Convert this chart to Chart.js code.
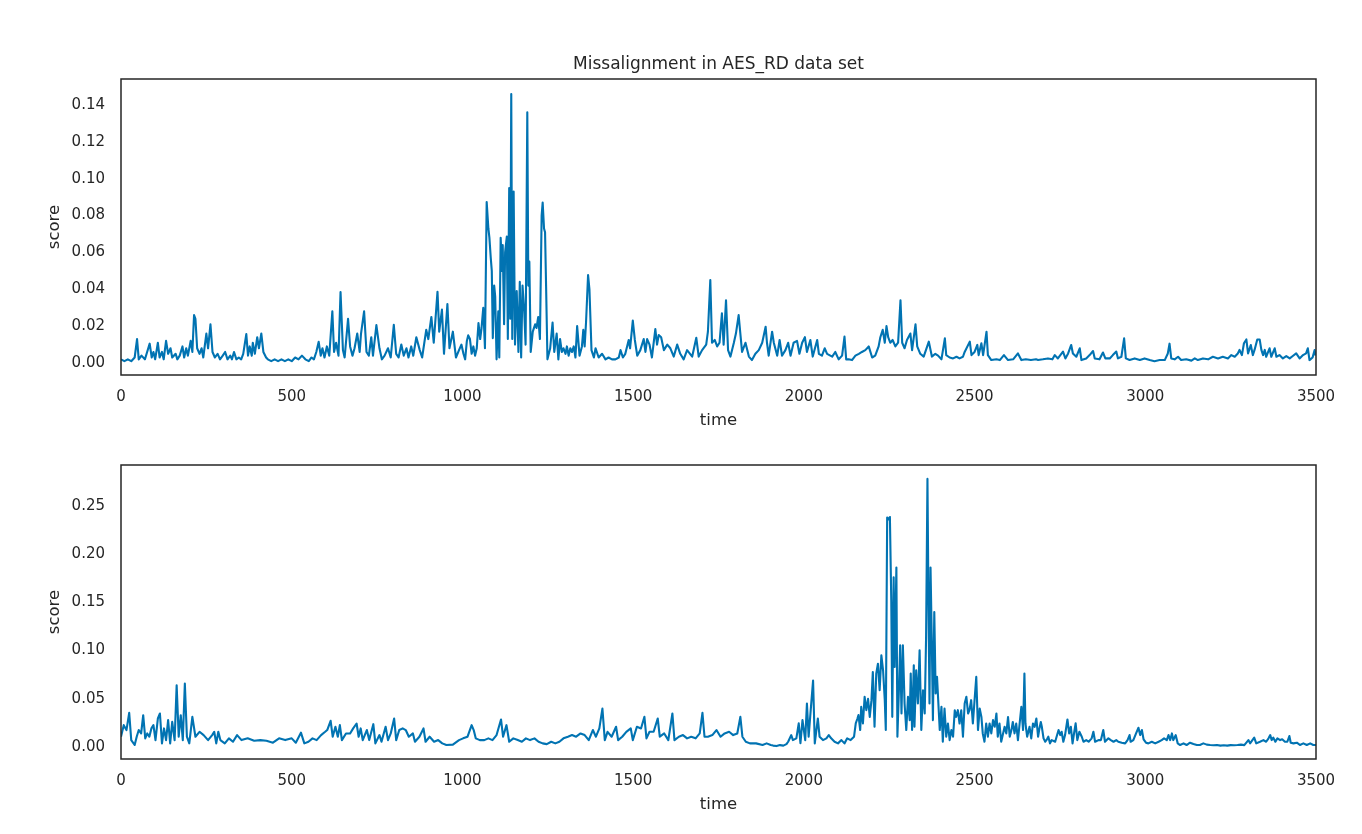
<!DOCTYPE html>
<html><head><meta charset="utf-8">
<script src="https://cdn.jsdelivr.net/npm/chart.js@4"></script>
<style>
html,body{margin:0;padding:0;background:#fff;width:1362px;height:834px;overflow:hidden}
canvas{position:absolute;left:0}
#c1{top:0}
#c2{top:440px}
</style></head><body>
<canvas id="c1" width="1362" height="440"></canvas>
<canvas id="c2" width="1362" height="394"></canvas>
<script>
const TITLE = 'Missalignment in AES_RD data set';
const X_LABEL = 'time';
const Y_LABEL = 'score';
const xTicks = [0, 500, 1000, 1500, 2000, 2500, 3000, 3500];
const topYTicks = [0, 0.02, 0.04, 0.06, 0.08, 0.10, 0.12, 0.14];
const bottomYTicks = [0, 0.05, 0.10, 0.15, 0.20, 0.25];

// [time, score] pairs
const topSeries = [[0,0.002],[10,0.001],[20,0.002],[30,0.001],[40,0.003],[47,0.013],[52,0.002],[60,0.004],[70,0.002],[75,0.005],[84,0.0105],[90,0.003],[95,0.006],[100,0.002],[108,0.011],[113,0.003],[120,0.006],[125,0.002],[132,0.012],[138,0.005],[145,0.008],[150,0.003],[160,0.005],[165,0.002],[172,0.004],[180,0.009],[185,0.003],[191,0.008],[196,0.004],[204,0.012],[209,0.006],[214,0.026],[218,0.024],[223,0.008],[230,0.005],[236,0.008],[241,0.003],[250,0.016],[255,0.008],[262,0.021],[268,0.006],[275,0.003],[283,0.005],[290,0.002],[298,0.004],[305,0.006],[312,0.002],[320,0.004],[325,0.002],[331,0.006],[338,0.002],[345,0.003],[352,0.002],[358,0.005],[367,0.0157],[372,0.004],[377,0.009],[383,0.004],[386,0.011],[392,0.005],[399,0.014],[404,0.008],[411,0.016],[417,0.006],[425,0.003],[430,0.002],[440,0.001],[450,0.002],[460,0.001],[470,0.002],[480,0.001],[490,0.002],[500,0.001],[510,0.003],[520,0.002],[530,0.004],[540,0.002],[550,0.001],[558,0.003],[565,0.002],[572,0.006],[579,0.0115],[585,0.004],[590,0.008],[596,0.003],[603,0.009],[610,0.004],[619,0.028],[624,0.006],[630,0.011],[637,0.004],[643,0.0385],[650,0.007],[655,0.003],[665,0.024],[671,0.009],[678,0.004],[684,0.008],[692,0.016],[699,0.006],[703,0.016],[712,0.028],[719,0.006],[726,0.004],[733,0.014],[738,0.004],[748,0.0206],[757,0.008],[764,0.002],[772,0.004],[782,0.008],[790,0.003],[799,0.0207],[806,0.005],[813,0.003],[821,0.010],[828,0.004],[836,0.008],[842,0.003],[850,0.009],[856,0.004],[865,0.014],[875,0.007],[882,0.003],[894,0.018],[900,0.013],[909,0.025],[916,0.011],[927,0.0387],[932,0.017],[940,0.029],[946,0.005],[956,0.032],[962,0.008],[972,0.017],[981,0.003],[990,0.007],[997,0.010],
[1003,0.005],[1008,0.002],[1013,0.012],[1017,0.015],[1022,0.013],[1027,0.005],[1032,0.009],[1037,0.004],[1042,0.008],[1047,0.0217],[1052,0.013],[1056,0.019],[1061,0.030],[1066,0.008],[1071,0.0874],[1076,0.073],[1079,0.068],[1083,0.057],[1086,0.050],[1089,0.0135],[1093,0.042],[1096,0.036],[1100,0.002],[1105,0.028],[1108,0.003],[1112,0.068],[1116,0.050],[1118,0.064],[1122,0.021],[1125,0.060],[1130,0.0686],[1133,0.013],[1137,0.095],[1140,0.024],[1143,0.146],[1146,0.013],[1150,0.093],[1154,0.010],[1159,0.039],[1164,0.006],[1168,0.044],[1172,0.003],[1176,0.042],[1181,0.028],[1185,0.010],[1190,0.136],[1193,0.042],[1196,0.055],[1200,0.006],[1206,0.017],[1213,0.021],[1217,0.019],[1222,0.025],[1227,0.013],[1232,0.080],[1235,0.087],[1239,0.073],[1242,0.071],[1245,0.042],[1249,0.002],[1257,0.008],[1264,0.022],[1269,0.006],[1276,0.016],[1281,0.002],[1286,0.013],[1291,0.006],
[1296,0.008],[1302,0.005],[1306,0.009],[1311,0.004],[1316,0.008],[1321,0.006],[1326,0.009],[1331,0.003],[1336,0.020],[1343,0.004],[1350,0.009],[1354,0.018],[1358,0.009],[1362,0.022],[1368,0.0477],[1372,0.040],[1378,0.007],[1385,0.003],[1390,0.008],[1399,0.003],[1409,0.005],[1419,0.002],[1428,0.003],[1438,0.002],[1448,0.002],[1458,0.003],[1463,0.007],[1470,0.003],[1477,0.005],[1487,0.0125],[1491,0.008],[1499,0.023],[1505,0.0125],[1512,0.004],[1521,0.007],[1531,0.013],[1536,0.006],[1541,0.013],[1548,0.010],[1555,0.003],[1565,0.0184],[1570,0.010],[1575,0.0152],[1582,0.014],[1590,0.007],[1600,0.010],[1609,0.008],[1619,0.0035],[1629,0.010],[1638,0.005],[1648,0.002],[1658,0.007],[1673,0.0035],[1685,0.0137],[1692,0.0035],[1702,0.007],[1714,0.010],[1719,0.017],[1726,0.045],[1731,0.011],[1739,0.0125],[1746,0.009],[1753,0.011],[1760,0.027],[1765,0.010],[1772,0.034],[1778,0.007],[1785,0.0035],[1795,0.011],[1801,0.016],[1809,0.026],[1814,0.016],[1819,0.006],[1829,0.011],[1839,0.0035],[1848,0.0016],[1858,0.005],[1868,0.007],[1878,0.011],[1888,0.0197],[1892,0.011],[1897,0.004],[1907,0.017],[1912,0.011],[1922,0.004],[1929,0.0125],[1936,0.004],[1946,0.007],[1954,0.011],[1961,0.004],[1970,0.011],[1980,0.012],[1987,0.005],[1995,0.011],[2003,0.014],[2009,0.006],[2019,0.0125],[2026,0.0035],[2039,0.0125],[2044,0.005],[2053,0.004],[2061,0.008],[2068,0.005],[2083,0.0035],[2092,0.006],[2102,0.002],[2112,0.004],[2119,0.0143],[2124,0.002],[2131,0.002],[2141,0.0016],[2151,0.004],[2161,0.005],[2170,0.006],[2180,0.007],[2190,0.009],[2200,0.003],[2209,0.004],[2219,0.009],[2224,0.014],[2231,0.018],[2237,0.011],[2242,0.020],[2247,0.014],[2253,0.011],[2260,0.0125],[2268,0.009],[2276,0.011],[2283,0.034],[2288,0.011],[2295,0.008],[2302,0.0125],[2312,0.016],[2317,0.007],[2327,0.021],[2332,0.009],[2341,0.005],[2351,0.0035],[2366,0.0116],[2375,0.0035],[2385,0.005],
[2393,0.004],[2403,0.002],[2413,0.0134],[2417,0.0043],[2427,0.003],[2437,0.0025],[2447,0.0034],[2456,0.0025],[2466,0.0034],[2471,0.006],[2486,0.0116],[2491,0.0043],[2500,0.006],[2508,0.0098],[2512,0.0043],[2520,0.0107],[2525,0.0043],[2535,0.017],[2539,0.0043],[2549,0.0016],[2564,0.002],[2574,0.0016],[2586,0.0043],[2598,0.0016],[2613,0.002],[2627,0.0052],[2637,0.0016],[2650,0.002],[2665,0.0016],[2680,0.002],[2686,0.0016],[2700,0.002],[2715,0.0025],[2728,0.002],[2735,0.0043],[2744,0.0025],[2759,0.0062],[2766,0.0025],[2774,0.0052],[2783,0.0098],[2788,0.0052],[2798,0.0034],[2808,0.008],[2813,0.0016],[2827,0.0025],[2837,0.0043],[2847,0.0065],[2852,0.0025],[2866,0.002],[2876,0.0057],[2883,0.0025],[2896,0.0025],[2905,0.0043],[2915,0.0062],[2920,0.0025],[2930,0.0034],[2938,0.0134],[2943,0.0025],[2954,0.0016],[2969,0.0025],[2984,0.0016],[2998,0.0025],[3013,0.0016],[3027,0.001],[3042,0.0016],[3057,0.0016],[3066,0.0052],[3071,0.0105],[3076,0.0025],[3086,0.002],[3096,0.0034],[3105,0.0016],[3120,0.002],[3135,0.0013],[3145,0.0025],[3154,0.0016],[3169,0.0025],[3184,0.002],[3198,0.0034],[3213,0.0025],[3227,0.0034],[3242,0.0025],[3252,0.0043],[3262,0.0034],[3271,0.0052],[3276,0.0071],[3283,0.0043],[3289,0.0107],[3296,0.0128],[3301,0.0052],[3309,0.0098],[3315,0.0043],[3320,0.0071],[3328,0.0128],[3335,0.0128],[3340,0.0071],[3345,0.0043],[3350,0.0071],[3354,0.0034],[3364,0.008],[3369,0.0034],[3379,0.008],[3384,0.0034],[3393,0.0043],[3403,0.0025],[3413,0.0038],[3423,0.0025],[3432,0.0038],[3442,0.0052],[3452,0.0025],[3462,0.0043],[3471,0.0052],[3476,0.008],[3481,0.0016],[3490,0.003],[3496,0.007],[3499,0.004]];

// [time, score] pairs
const bottomSeries = [[0,0.0107],[8,0.0227],[16,0.0176],[24,0.0355],[30,0.0072],[40,0.0021],[46,0.0107],[52,0.0176],[59,0.0141],[65,0.033],[71,0.009],[77,0.0141],[83,0.0107],[89,0.0193],[95,0.0227],[101,0.0072],[108,0.0296],[114,0.0348],[120,0.0038],[126,0.0193],[132,0.0072],[138,0.0279],[144,0.0038],[150,0.0262],[157,0.0072],[163,0.064],[169,0.0107],[175,0.033],[181,0.0072],[187,0.0658],[193,0.0107],[200,0.0038],[209,0.0313],[218,0.0107],[230,0.0158],[242,0.0124],[255,0.0072],[267,0.0124],[273,0.0158],[279,0.0038],[285,0.0158],[291,0.0072],[304,0.0038],[316,0.009],[328,0.0055],[340,0.0124],[353,0.0072],[371,0.009],[390,0.0065],[408,0.0072],[426,0.0065],[445,0.0045],[463,0.009],[481,0.0072],[500,0.009],[512,0.0045],[527,0.0149],[537,0.0038],[549,0.0055],[561,0.009],[573,0.0072],[586,0.0124],[598,0.0158],[604,0.0176],[614,0.0272],[620,0.0107],[628,0.021],[635,0.0107],[641,0.0227],[647,0.0072],[659,0.0141],[671,0.0141],[680,0.0193],[690,0.0244],[696,0.0107],[702,0.0193],[708,0.0072],[720,0.0176],[727,0.0072],[739,0.0237],[745,0.0038],[757,0.0124],[763,0.0055],[775,0.021],[782,0.0072],[790,0.0141],[800,0.0296],[806,0.0072],[815,0.0176],[825,0.0193],[834,0.0176],[843,0.0107],[855,0.0141],[861,0.0055],[874,0.0107],[886,0.0193],[892,0.0055],[904,0.0107],[917,0.0055],[929,0.0072],[941,0.0038],[953,0.0021],[972,0.0025],[990,0.0072],[1002,0.009],[1015,0.0107],[1027,0.0227],[1033,0.0176],[1039,0.009],[1051,0.0072],[1064,0.0072],[1076,0.009],[1088,0.0072],[1100,0.0124],[1113,0.0286],[1119,0.0107],[1129,0.0227],[1137,0.0055],[1149,0.009],[1162,0.0072],[1174,0.0055],[1186,0.009],[1198,0.0072],[1211,0.009],[1223,0.0055],[1235,0.0038],[1247,0.003],[1260,0.0055],[1272,0.0038],[1284,0.0055],[1296,0.009],[1309,0.0107],[1321,0.0124],[1333,0.0107],[1346,0.0141],[1358,0.0124],[1370,0.0072],[1382,0.0176],[1391,0.0107],[1401,0.0193],[1410,0.0399],[1417,0.0072],[1425,0.0158],[1437,0.0107],[1450,0.021],[1456,0.0072],[1468,0.0107],[1480,0.0158],[1493,0.0193],[1499,0.0072],[1511,0.021],[1523,0.0193],[1533,0.0313],[1539,0.009],[1548,0.0158],[1560,0.0158],[1572,0.0296],[1578,0.0107],[1591,0.0141],[1603,0.0072],[1615,0.0348],[1621,0.0072],[1634,0.0107],[1646,0.0124],[1658,0.009],[1670,0.0107],[1683,0.009],[1695,0.0141],[1703,0.0355],[1709,0.0107],[1719,0.0107],[1732,0.0124],[1744,0.0176],[1756,0.0107],[1768,0.0141],[1781,0.0158],[1793,0.0124],[1805,0.0141],[1814,0.0313],[1820,0.0107],[1830,0.0055],[1842,0.0038],[1860,0.0038],[1879,0.0021],[1891,0.0038],[1903,0.0021],
[1910,0.0015],[1920,0.001],[1930,0.002],[1940,0.0015],[1949,0.003],[1954,0.0055],[1963,0.0124],[1968,0.0072],[1978,0.009],[1985,0.0245],[1990,0.004],[1996,0.028],[2000,0.0176],[2004,0.0072],[2009,0.0451],[2014,0.0107],[2020,0.038],[2027,0.069],[2032,0.0038],[2041,0.0296],[2046,0.0107],[2056,0.0072],[2066,0.009],[2073,0.0124],[2080,0.009],[2090,0.0055],[2100,0.0038],[2110,0.0072],[2119,0.0038],[2127,0.009],[2137,0.0072],[2147,0.0107],[2152,0.0245],[2157,0.0296],[2160,0.0331],[2165,0.0176],[2168,0.0417],[2173,0.0244],[2178,0.052],[2183,0.0382],[2188,0.050],[2193,0.0313],[2198,0.0486],[2202,0.0778],[2207,0.021],[2212,0.0761],[2217,0.0864],[2222,0.0589],[2227,0.095],[2232,0.0796],[2237,0.0486],[2240,0.0176],[2244,0.238],[2248,0.236],[2252,0.2385],[2256,0.1522],[2259,0.0313],[2263,0.176],[2266,0.083],[2271,0.186],[2274,0.0107],[2279,0.0658],[2282,0.1054],[2286,0.0348],[2290,0.1054],[2295,0.0451],[2300,0.0176],[2305,0.052],[2310,0.0279],[2313,0.0761],[2317,0.0176],[2322,0.0847],[2324,0.021],[2329,0.0796],[2334,0.0451],[2339,0.1002],[2344,0.0176],[2349,0.0589],[2354,0.0348],[2358,0.114],[2362,0.278],[2365,0.148],[2368,0.0451],[2371,0.186],[2375,0.1037],[2378,0.0279],[2382,0.140],[2386,0.0555],[2390,0.0727],[2395,0.0382],[2398,0.0176],[2403,0.0417],[2407,0.0055],[2412,0.0399],[2417,0.0107],[2422,0.0244],[2427,0.0072],[2432,0.0176],[2437,0.0107],[2442,0.0382],[2446,0.0313],[2451,0.0382],[2456,0.0244],[2461,0.0382],[2466,0.0107],[2471,0.0451],[2476,0.052],[2481,0.0348],[2485,0.0382],[2490,0.0486],[2495,0.0244],[2500,0.0486],[2505,0.0727],[2510,0.0176],[2515,0.0399],[2520,0.0313],[2524,0.0141],[2529,0.0055],[2534,0.0244],[2539,0.0107],[2544,0.0244],[2549,0.0141],[2554,0.0279],[2559,0.021],[2564,0.0348],[2568,0.0107],[2573,0.0244],[2578,0.0055],[2588,0.021],[2593,0.0141],[2598,0.031],[2603,0.0107],[2608,0.0176],[2612,0.026],[2617,0.0141],[2622,0.0244],[2627,0.0072],[2632,0.0244],[2637,0.0417],[2642,0.0176],[2646,0.0761],[2649,0.0244],[2654,0.0107],[2661,0.021],[2666,0.009],[2671,0.0244],[2676,0.021],[2681,0.0296],[2686,0.0107],[2690,0.0193],
[2694,0.026],[2697,0.021],[2702,0.009],[2707,0.0055],[2712,0.008],[2716,0.0107],[2721,0.0038],[2726,0.0072],[2736,0.0055],[2746,0.0176],[2751,0.0124],[2755,0.0158],[2760,0.0055],[2765,0.0124],[2772,0.0286],[2777,0.0141],[2782,0.021],[2787,0.0038],[2792,0.0158],[2796,0.0245],[2801,0.0072],[2807,0.0158],[2814,0.0107],[2819,0.0055],[2827,0.0072],[2834,0.0055],[2843,0.009],[2848,0.0158],[2853,0.0055],[2863,0.0072],[2870,0.0072],[2877,0.0176],[2882,0.0055],[2892,0.009],[2899,0.0072],[2907,0.0055],[2915,0.0072],[2921,0.0055],[2931,0.0045],[2941,0.0038],[2948,0.0072],[2954,0.0124],[2957,0.0055],[2965,0.0072],[2973,0.0141],[2980,0.020],[2985,0.0124],[2990,0.0176],[2995,0.008],[3002,0.0045],[3009,0.0038],[3019,0.0055],[3029,0.0038],[3039,0.0055],[3048,0.0072],[3055,0.009],[3063,0.0072],[3068,0.0124],[3073,0.0072],[3078,0.0141],[3082,0.0072],[3089,0.0124],[3095,0.0038],[3102,0.0021],[3112,0.0038],[3121,0.0021],[3131,0.0045],[3141,0.0031],[3151,0.0021],[3160,0.0021],[3170,0.0038],[3180,0.0025],[3190,0.0021],[3200,0.0018],[3210,0.0021],[3220,0.0015],[3230,0.0018],[3240,0.0015],[3250,0.002],[3260,0.0018],[3270,0.0021],[3280,0.0025],[3290,0.002],[3302,0.0072],[3307,0.0038],[3319,0.0097],[3325,0.0038],[3336,0.0055],[3346,0.0072],[3354,0.0055],[3361,0.009],[3366,0.0124],[3370,0.0072],[3375,0.0097],[3381,0.0055],[3387,0.009],[3395,0.0072],[3401,0.008],[3409,0.0055],[3416,0.0055],[3422,0.0114],[3426,0.0045],[3434,0.0038],[3444,0.0045],[3453,0.0021],[3463,0.0038],[3473,0.0021],[3483,0.0038],[3492,0.0021],[3500,0.0021]];

const TEXT = '#262626';
const LINE = '#0173b2';
Chart.defaults.font.family = "'DejaVu Sans', sans-serif";
Chart.defaults.color = TEXT;

const framePlugin = {
  id: 'frame',
  afterDatasetsDraw(chart) {
    const {ctx, chartArea: a} = chart;
    ctx.save();
    ctx.strokeStyle = TEXT;
    ctx.lineWidth = 1.5;
    ctx.strokeRect(a.left, a.top, a.right - a.left, a.bottom - a.top);
    ctx.restore();
  }
};

function makeChart(id, series, yMin, yMax, yTicks, padTop, padBottom, withTitle) {
  return new Chart(document.getElementById(id), {
    type: 'line',
    data: {
      datasets: [{
        data: series.map(p => ({x: p[0], y: p[1]})),
        borderColor: LINE,
        borderWidth: 2.1,
        pointRadius: 0,
        tension: 0,
        fill: false,
        borderJoinStyle: 'round',
        borderCapStyle: 'butt'
      }]
    },
    options: {
      responsive: false,
      devicePixelRatio: 1,
      animation: false,
      events: [],
      layout: {padding: {left: 0, right: 46, top: padTop, bottom: padBottom}},
      plugins: {
        legend: {display: false},
        tooltip: {enabled: false},
        title: {
          display: withTitle,
          text: TITLE,
          fullSize: false,
          color: TEXT,
          font: {size: 17, weight: 'normal'},
          padding: {top: 54, bottom: 4.6}
        }
      },
      scales: {
        x: {
          type: 'linear',
          min: 0, max: 3500,
          grid: {display: false, drawTicks: false},
          border: {display: false},
          afterBuildTicks: s => { s.ticks = xTicks.map(v => ({value: v})); },
          afterFit: s => { s.height = 65; },
          ticks: {
            autoSkip: false, maxRotation: 0, padding: 13,
            font: {size: 15}, color: TEXT,
            callback: v => String(v)
          },
          title: {display: true, text: X_LABEL, color: TEXT, font: {size: 16.5}, padding: {top: 0, bottom: 9}}
        },
        y: {
          type: 'linear',
          min: yMin, max: yMax,
          grid: {display: false, drawTicks: false},
          border: {display: false},
          afterBuildTicks: s => { s.ticks = yTicks.map(v => ({value: v})); },
          afterFit: s => { s.width = 121; },
          ticks: {
            autoSkip: false, padding: 16,
            font: {size: 15}, color: TEXT,
            callback: v => Number(v).toFixed(2)
          },
          title: {display: true, text: Y_LABEL, color: TEXT, font: {size: 16.5}, padding: {top: 45, bottom: 0}}
        }
      }
    },
    plugins: [framePlugin]
  });
}

makeChart('c1', topSeries, -0.0065, 0.1541, topYTicks, 0, 0, true);
makeChart('c2', bottomSeries, -0.0124, 0.2924, bottomYTicks, 24, 10, false);
</script>
</body></html>
